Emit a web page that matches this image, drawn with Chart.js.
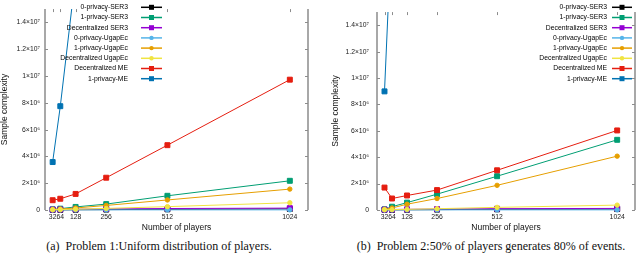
<!DOCTYPE html>
<html>
<head>
<meta charset="utf-8">
<script src="https://cdn.jsdelivr.net/npm/chart.js@4"></script>
<style>
body { margin: 0; background: #fff; width: 640px; height: 258px; overflow: hidden; position: relative; }
canvas { position: absolute; top: 0; }
#c1 { left: 0; }
#c2 { left: 320px; }
.cap { position: absolute; top: 240px; font-family: "Liberation Serif", serif; font-size: 12px; line-height: 13px;
       white-space: nowrap; transform: translateX(-50%); color: #111; }
</style>
</head>
<body>
<canvas id="c1" width="320" height="236"></canvas>
<canvas id="c2" width="320" height="236"></canvas>
<div class="cap" style="left:159px">(a)&nbsp; Problem 1:Uniform distribution of players.</div>
<div class="cap" style="left:491px">(b)&nbsp; Problem 2:50% of players generates 80% of events.</div>
<script>
// x values: number of players
const players = [32, 64, 128, 256, 512, 1024];

const seriesNames = ['0-privacy-SER3', '1-privacy-SER3', 'Decentralized SER3', '0-privacy-UgapEc',
                     '1-privacy-UgapEc', 'Decentralized UgapEc', 'Decentralized ME', '1-privacy-ME'];

// y axis in units of 10^6 samples
const yTicks = [0, 2, 4, 6, 8, 10, 12, 14];
const yTickLabels = ['0', '2×10⁶', '4×10⁶', '6×10⁶', '8×10⁶', '1×10⁷', '1.2×10⁷', '1.4×10⁷'];

// problem 1 : uniform distribution (×10^6)
const p1Zero_SER3 = [0.01, 0.01, 0.02, 0.03, 0.05, 0.08];
const p1One_SER3 = [0.05, 0.10, 0.23, 0.44, 1.06, 2.18];
const p1Dec_SER3 = [0.03, 0.04, 0.06, 0.08, 0.11, 0.14];
const p1Zero_Ugap = [0.01, 0.01, 0.01, 0.01, 0.01, 0.01];
const p1One_Ugap = [0.04, 0.07, 0.15, 0.34, 0.75, 1.56];
const p1Dec_Ugap = [0.02, 0.03, 0.06, 0.12, 0.25, 0.54];
const p1Dec_ME = [0.73, 0.84, 1.20, 2.41, 4.84, 9.73];
const p1One_ME = [3.58, 7.75, 17.5, null, null, null];

// problem 2 : 50% of players generates 80% of events (×10^6)
const p2Zero_SER3 = [0.01, 0.01, 0.02, 0.03, 0.05, 0.07];
const p2One_SER3 = [0.05, 0.25, 0.56, 1.20, 2.56, 5.32];
const p2Dec_SER3 = [0.03, 0.04, 0.05, 0.07, 0.10, 0.12];
const p2Zero_Ugap = [0.01, 0.01, 0.01, 0.01, 0.01, 0.01];
const p2One_Ugap = [0.05, 0.15, 0.44, 0.87, 1.87, 4.08];
const p2Dec_Ugap = [0.02, 0.03, 0.05, 0.10, 0.20, 0.37];
const p2Dec_ME = [1.70, 0.87, 1.10, 1.51, 3.01, 6.03];
const p2One_ME = [8.99, 22.0, null, null, null, null];

const seriesColors = ['#000000', '#009e73', '#9400d3', '#56b4e9', '#e69f00', '#f0e442', '#e51e10', '#0072b2'];
const seriesMarkers = ['rect', 'rect', 'rect', 'circle', 'circle', 'circle', 'rect', 'rect'];

const frameColor = '#8c8c8c';
const sans = '"Liberation Sans", Arial, sans-serif';

function makeSets(values) {
    return seriesNames.map((name, i) => ({
        label: name,
        data: players.map((p, j) => ({ x: p, y: values[i][j] })),
        borderColor: seriesColors[i],
        backgroundColor: seriesColors[i],
        pointStyle: seriesMarkers[i],
        pointRadius: seriesMarkers[i] === 'rect' ? 3.5 : 2.2,
        pointBorderWidth: 1,
        borderWidth: 1,
        order: seriesNames.length - i,
        clip: { left: 8, top: 0, right: 8, bottom: 8 }
    }));
}

// border lines + inward ticks, gnuplot style
const framePlugin = {
    id: 'frame',
    afterDatasetsDraw(chart) {
        const ctx = chart.ctx, a = chart.chartArea;
        const y = chart.scales.y, x = chart.scales.x;
        ctx.save();
        ctx.strokeStyle = frameColor;
        ctx.lineWidth = 1.5;
        ctx.beginPath();
        ctx.moveTo(a.left, a.top); ctx.lineTo(a.left, a.bottom);
        ctx.moveTo(a.right, a.top); ctx.lineTo(a.right, a.bottom);
        ctx.stroke();
        ctx.lineWidth = 1;
        ctx.beginPath();
        yTicks.forEach(v => {
            const py = Math.round(y.getPixelForValue(v)) + 0.5;
            ctx.moveTo(a.left, py); ctx.lineTo(a.left + 3, py);
            ctx.moveTo(a.right - 3, py); ctx.lineTo(a.right, py);
        });
        players.forEach(v => {
            const px = Math.round(x.getPixelForValue(v)) + 0.5;
            ctx.moveTo(px, a.top); ctx.lineTo(px, a.top + 3);
        });
        ctx.stroke();
        ctx.restore();
    }
};

// key inside the plot: text right aligned, sample line with marker on the right
const keyPlugin = {
    id: 'key',
    afterDraw(chart, args, opts) {
        const ctx = chart.ctx;
        ctx.save();
        ctx.font = '6.8px ' + sans;
        ctx.textAlign = 'right';
        ctx.textBaseline = 'middle';
        chart.data.datasets.forEach((ds, i) => {
            const ry = opts.top + i * opts.rowH;
            ctx.fillStyle = '#000';
            ctx.fillText(ds.label, opts.textRight, ry);
            ctx.strokeStyle = ds.borderColor;
            ctx.lineWidth = 1.5;
            ctx.beginPath();
            ctx.moveTo(opts.lineLeft, ry); ctx.lineTo(opts.lineRight, ry);
            ctx.stroke();
            const cx = (opts.lineLeft + opts.lineRight) / 2;
            ctx.fillStyle = ds.backgroundColor;
            ctx.beginPath();
            if (ds.pointStyle === 'rect') {
                ctx.rect(cx - 2.5, ry - 2.5, 5, 5);
            } else {
                ctx.arc(cx, ry, 2.2, 0, Math.PI * 2);
            }
            ctx.fill();
        });
        ctx.restore();
    }
};

function makeChart(id, values, yWidth, tickPad, titlePad, key) {
    return new Chart(document.getElementById(id), {
        type: 'line',
        data: { datasets: makeSets(values) },
        plugins: [framePlugin, keyPlugin],
        options: {
            responsive: false,
            animation: false,
            devicePixelRatio: 1,
            layout: { padding: { top: 0, right: key.padRight, bottom: 0, left: 0 } },
            plugins: {
                legend: { display: false },
                tooltip: { enabled: false },
                key: key
            },
            scales: {
                x: {
                    type: 'linear',
                    min: 0,
                    max: 1100,
                    afterBuildTicks: s => { s.ticks = players.map(v => ({ value: v })); },
                    afterFit: s => { s.height = 26; },
                    grid: { display: false, drawTicks: false },
                    border: { display: false },
                    ticks: { autoSkip: false, maxRotation: 0, minRotation: 0, padding: 3,
                             color: '#222', font: { family: sans, size: 6.8 },
                             callback: v => String(v) },
                    title: { display: true, text: 'Number of players', color: '#111',
                             font: { family: sans, size: 8.5 }, padding: { top: 0, bottom: 3 } }
                },
                y: {
                    min: 0,
                    max: 15,
                    afterBuildTicks: s => { s.ticks = yTicks.map(v => ({ value: v })); },
                    afterFit: s => { s.width = yWidth; },
                    grid: { display: false, drawTicks: false },
                    border: { display: false },
                    ticks: { padding: tickPad, color: '#222', font: { family: sans, size: 6.8 },
                             callback: v => yTickLabels[yTicks.indexOf(v)] },
                    title: { display: true, text: 'Sample complexity', color: '#111',
                             font: { family: sans, size: 8.5 }, padding: { top: titlePad, bottom: 0 } }
                }
            }
        }
    });
}

makeChart('c1',
    [p1Zero_SER3, p1One_SER3, p1Dec_SER3, p1Zero_Ugap, p1One_Ugap, p1Dec_Ugap, p1Dec_ME, p1One_ME],
    45, 5, 0,
    { top: 7.3, rowH: 10.2, textRight: 128, lineLeft: 141, lineRight: 162, padRight: 12 });

makeChart('c2',
    [p2Zero_SER3, p2One_SER3, p2Dec_SER3, p2Zero_Ugap, p2One_Ugap, p2Dec_Ugap, p2Dec_ME, p2One_ME],
    57, 8, 11,
    { top: 7.3, rowH: 10.2, textRight: 287, lineLeft: 292, lineRight: 312, padRight: 3 });
</script>
</body>
</html>
